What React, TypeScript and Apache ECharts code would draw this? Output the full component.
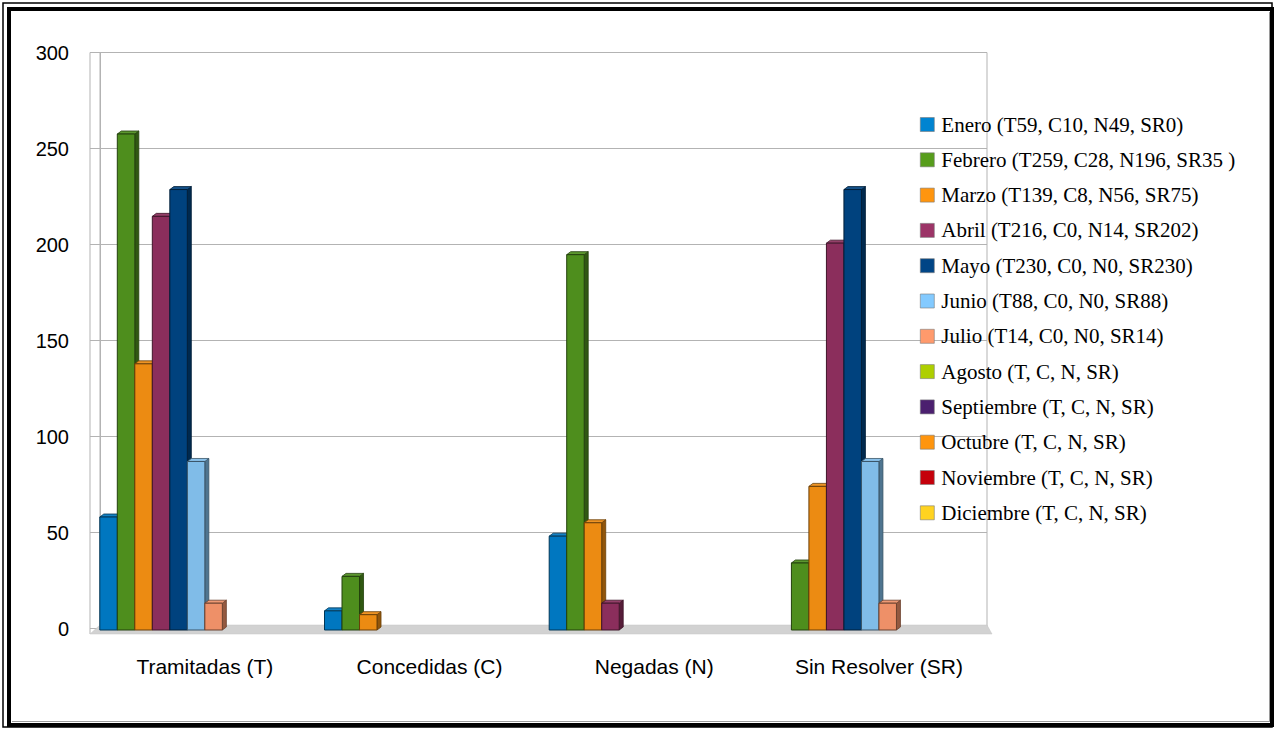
import React, { useEffect, useRef } from "react";
import * as echarts from "echarts";

const categories = ["Tramitadas (T)", "Concedidas (C)", "Negadas (N)", "Sin Resolver (SR)"];

const seriesNames = [
  "Enero (T59, C10, N49, SR0)",
  "Febrero (T259, C28, N196, SR35 )",
  "Marzo (T139, C8, N56, SR75)",
  "Abril (T216, C0, N14, SR202)",
  "Mayo (T230, C0, N0, SR230)",
  "Junio (T88, C0, N0, SR88)",
  "Julio (T14, C0, N0, SR14)",
  "Agosto (T, C, N, SR)",
  "Septiembre (T, C, N, SR)",
  "Octubre (T, C, N, SR)",
  "Noviembre (T, C, N, SR)",
  "Diciembre (T, C, N, SR)",
];

// values per month: [T, C, N, SR]
const enero = [59, 10, 49, 0];
const febrero = [259, 28, 196, 35];
const marzo = [139, 8, 56, 75];
const abril = [216, 0, 14, 202];
const mayo = [230, 0, 0, 230];
const junio = [88, 0, 0, 88];
const julio = [14, 0, 0, 14];
const agosto = [null, null, null, null];
const septiembre = [null, null, null, null];
const octubre = [null, null, null, null];
const noviembre = [null, null, null, null];
const diciembre = [null, null, null, null];

const monthValues = [enero, febrero, marzo, abril, mayo, junio, julio, agosto, septiembre, octubre, noviembre, diciembre];

const yMin = 0;
const yMax = 300;
const yStep = 50;

const legendColors = ["#0084d1", "#579d1c", "#ff950e", "#9c3467", "#004586", "#83caff", "#ff9a6c", "#aecf00", "#4b1f6f", "#ff950e", "#c5000b", "#ffd320"];
const barColors = ["#0077c0", "#4e8e1d", "#ec8b12", "#8b2e5c", "#00427e", "#80bce8", "#ee9068", "#a0bf00", "#451d66", "#ec8b12", "#b6000a", "#ecc41e"];

function shade(hex: string, f: number): string {
  const n = parseInt(hex.slice(1), 16);
  let r = (n >> 16) & 255, g = (n >> 8) & 255, b = n & 255;
  if (f < 1) { r = r * f; g = g * f; b = b * f; }
  else { const t = f - 1; r = r + (255 - r) * t; g = g + (255 - g) * t; b = b + (255 - b) * t; }
  const h = (v: number) => Math.round(Math.max(0, Math.min(255, v))).toString(16).padStart(2, "0");
  return "#" + h(r) + h(g) + h(b);
}

const GAP_RATIO = 0.065;
const DX = 4;
const DY = 3;

export default function App() {
  const ref = useRef<HTMLDivElement>(null);
  useEffect(() => {
    if (!ref.current) return;
    const chart = echarts.init(ref.current, undefined, { renderer: "svg" });
    const nSeries = monthValues.length;

    const renderItem = (params: any, api: any) => {
      const v = api.value(1);
      if (v == null || isNaN(v) || v <= 0) return null;
      const ci = api.value(0);
      const s = params.seriesIndex;
      const base = api.coord([ci, 0]);
      const top = api.coord([ci, v]);
      const band = api.size([1, 0])[0];
      const used = band * (1 - GAP_RATIO);
      const bw = used / nSeries;
      const x0 = base[0] - used / 2 + s * bw;
      const x1 = x0 + bw;
      const ty = top[1];
      const by = base[1];
      const c = barColors[s];
      const edge = shade(c, 0.45);
      return {
        type: "group",
        children: [
          {
            type: "polygon",
            shape: { points: [[x1, ty], [x1 + DX, ty - DY], [x1 + DX, by - DY], [x1, by]] },
            style: { fill: shade(c, 0.62), stroke: edge, lineWidth: 0.8 },
          },
          {
            type: "polygon",
            shape: { points: [[x0, ty], [x0 + DX, ty - DY], [x1 + DX, ty - DY], [x1, ty]] },
            style: { fill: shade(c, 1.08), stroke: edge, lineWidth: 0.8 },
          },
          {
            type: "rect",
            shape: { x: x0, y: ty, width: bw, height: by - ty },
            style: { fill: c, stroke: edge, lineWidth: 1 },
          },
        ],
      };
    };

    const series = monthValues.map((vals, s) => ({
      type: "custom",
      name: seriesNames[s],
      coordinateSystem: "cartesian2d",
      xAxisIndex: 1,
      yAxisIndex: 1,
      encode: { x: 0, y: 1 },
      itemStyle: { color: legendColors[s] },
      renderItem,
      clip: false,
      data: vals.map((v, i) => [i, v]),
    }));

    const gray = "#b3b3b3";
    chart.setOption({
      animation: false,
      backgroundColor: "#ffffff",
      grid: [
        { left: 100, top: 52.5, width: 887, height: 576, show: true, borderColor: gray, borderWidth: 1, backgroundColor: "transparent" },
        { left: 92.5, top: 55.5, width: 898.8, height: 574.5, show: false },
      ],
      xAxis: [
        { gridIndex: 0, type: "category", data: categories, axisLine: { show: false }, axisTick: { show: false }, axisLabel: { show: false }, splitLine: { show: false } },
        {
          gridIndex: 1, type: "category", data: categories,
          axisLine: { show: false }, axisTick: { show: false }, splitLine: { show: false },
          axisLabel: { color: "#000", fontFamily: "Liberation Sans", fontSize: 21, margin: 26 },
        },
      ],
      yAxis: [
        {
          gridIndex: 0, type: "value", min: yMin, max: yMax, interval: yStep,
          axisLine: { show: true, lineStyle: { color: gray, width: 1 } },
          axisTick: { show: true, length: 10, lineStyle: { color: gray, width: 1 } },
          axisLabel: { color: "#000", fontFamily: "Liberation Sans", fontSize: 20, margin: 31 },
          splitLine: { show: true, lineStyle: { color: gray, width: 1.2 } },
        },
        { gridIndex: 1, type: "value", min: yMin, max: yMax, interval: yStep, show: false, splitLine: { show: false } },
      ],
      legend: {
        orient: "vertical",
        left: 920,
        top: 114,
        padding: 0,
        itemWidth: 14,
        itemHeight: 14,
        itemGap: 14.3,
        icon: "rect",
        itemStyle: { borderColor: "#7a7a7a", borderWidth: 0.6 },
        textStyle: { color: "#000", fontFamily: "Liberation Serif", fontSize: 21, lineHeight: 21, padding: [0, 0, 0, 2] },
        data: seriesNames,
      },
      graphic: [
        { type: "rect", z: 1, silent: true, shape: { x: 3, y: 3, width: 1269, height: 724 }, style: { fill: "none", stroke: "#000", lineWidth: 1.5 } },
        { type: "rect", z: 1, silent: true, shape: { x: 9, y: 9, width: 1263, height: 716 }, style: { fill: "none", stroke: "#000", lineWidth: 4 } },
        { type: "line", z: 1, silent: true, shape: { x1: 1269.5, y1: 12, x2: 1269.5, y2: 722 }, style: { stroke: "#9a9a9a", lineWidth: 1 } },
        { type: "line", z: 1, silent: true, shape: { x1: 12, y1: 721.5, x2: 1269.5, y2: 721.5 }, style: { stroke: "#9a9a9a", lineWidth: 1 } },
        { type: "line", z: 1, silent: true, shape: { x1: 90, y1: 52.5, x2: 90, y2: 634 }, style: { stroke: gray, lineWidth: 1 } },
        { type: "polygon", z: 1, silent: true, shape: { points: [[100, 625], [987, 625], [992, 634], [90, 634]] }, style: { fill: "#d2d2d2", stroke: "#c4c4c4", lineWidth: 0.5 } },
      ],
      series,
    });
    return () => chart.dispose();
  }, []);
  return <div ref={ref} style={{ position: "fixed", left: 0, top: 0, width: 1278, height: 729 }} />;
}
